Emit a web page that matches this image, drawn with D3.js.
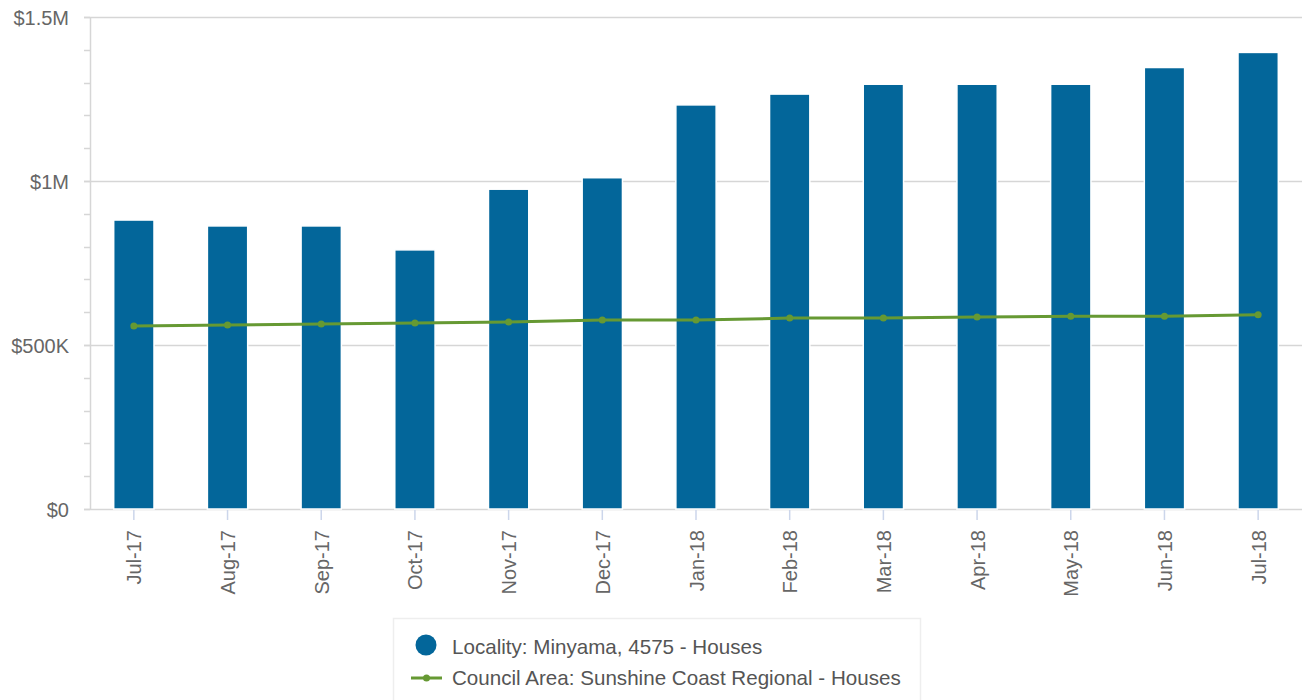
<!DOCTYPE html>
<html>
<head>
<meta charset="utf-8">
<script src="https://cdn.jsdelivr.net/npm/d3@7"></script>
<style>
  body { margin: 0; background: #fff; }
  svg { display: block; font-family: "Liberation Sans", Arial, sans-serif; }
</style>
</head>
<body>
<svg id="chart" width="1302" height="700"></svg>
<script>
const months = ["Jul-17", "Aug-17", "Sep-17", "Oct-17", "Nov-17", "Dec-17", "Jan-18",
  "Feb-18", "Mar-18", "Apr-18", "May-18", "Jun-18", "Jul-18"]
const localityValues = [881000, 863000, 863000, 790000, 975000, 1010000, 1232000,
  1265000, 1295000, 1295000, 1295000, 1346000, 1392000]
const councilValues = [558000, 561000, 564000, 567000, 570000, 576000, 576000,
  582000, 582000, 585000, 588000, 588000, 592000]
const yTicks = [0, 500000, 1000000, 1500000]
const yTickLabels = ["$0", "$500K", "$1M", "$1.5M"]
const seriesNames = ["Locality: Minyama, 4575 - Houses", "Council Area: Sunshine Coast Regional - Houses"]

const barColor = "#03669a"
const lineColor = "#669933"
const gridColor = "#d6d6d6"
const textColor = "#666"

const svg = d3.select("#chart")

const x = d3.scaleBand()
  .domain(months)
  .range([87, 1305])
  .paddingInner(0.57)
  .paddingOuter(0.285)

const y = d3.scaleLinear()
  .domain([0, 1500000])
  .range([509, 17])

// grid lines
svg.append("g")
  .selectAll("line")
  .data(yTicks)
  .join("line")
  .attr("x1", 84)
  .attr("x2", 1302)
  .attr("y1", d => Math.round(y(d)) + 0.5)
  .attr("y2", d => Math.round(y(d)) + 0.5)
  .attr("stroke", gridColor)
  .attr("stroke-width", 1.5)

// minor ticks on left axis
svg.append("g")
  .selectAll("line")
  .data(d3.range(0, 1500001, 100000))
  .join("line")
  .attr("x1", 84)
  .attr("x2", 90)
  .attr("y1", d => Math.round(y(d)) + 0.5)
  .attr("y2", d => Math.round(y(d)) + 0.5)
  .attr("stroke", gridColor)
  .attr("stroke-width", 1.5)

svg.append("line")
  .attr("x1", 90.5).attr("x2", 90.5)
  .attr("y1", y(1500000)).attr("y2", y(0))
  .attr("stroke", gridColor)
  .attr("stroke-width", 1.5)

// y labels
svg.append("g")
  .selectAll("text")
  .data(yTicks)
  .join("text")
  .attr("x", 69)
  .attr("y", d => y(d) + 8)
  .attr("text-anchor", "end")
  .attr("fill", textColor)
  .attr("font-size", 20)
  .text((d, i) => yTickLabels[i])

// x ticks and labels
const xAxis = svg.append("g")
xAxis.selectAll("line")
  .data(months)
  .join("line")
  .attr("x1", d => x(d) + x.bandwidth() / 2)
  .attr("x2", d => x(d) + x.bandwidth() / 2)
  .attr("y1", 510)
  .attr("y2", 520)
  .attr("stroke", "#ccd6eb")
  .attr("stroke-width", 1.5)

xAxis.selectAll("text")
  .data(months)
  .join("text")
  .attr("transform", d => `translate(${x(d) + x.bandwidth() / 2 + 7.5},530) rotate(-90)`)
  .attr("text-anchor", "end")
  .attr("fill", textColor)
  .attr("font-size", 20)
  .text(d => d)

// bars
svg.append("g")
  .selectAll("rect")
  .data(localityValues)
  .join("rect")
  .attr("x", (d, i) => x(months[i]))
  .attr("y", d => y(d))
  .attr("width", x.bandwidth())
  .attr("height", d => y(0) - y(d))
  .attr("fill", barColor)
  .attr("stroke", "#fff")
  .attr("stroke-width", 1.5)

// line
const line = d3.line()
  .x((d, i) => x(months[i]) + x.bandwidth() / 2)
  .y(d => y(d))

svg.append("path")
  .datum(councilValues)
  .attr("d", line)
  .attr("fill", "none")
  .attr("stroke", lineColor)
  .attr("stroke-width", 3)

svg.append("g")
  .selectAll("circle")
  .data(councilValues)
  .join("circle")
  .attr("cx", (d, i) => x(months[i]) + x.bandwidth() / 2)
  .attr("cy", d => y(d))
  .attr("r", 3.5)
  .attr("fill", lineColor)

// legend
const legend = svg.append("g")
legend.append("rect")
  .attr("x", 393.5).attr("y", 618.5)
  .attr("width", 527).attr("height", 100)
  .attr("fill", "#fff")
  .attr("stroke", "#eeeeee")
  .attr("stroke-width", 1.5)

legend.append("circle")
  .attr("cx", 426).attr("cy", 645).attr("r", 10.5)
  .attr("fill", barColor)

legend.append("line")
  .attr("x1", 411).attr("x2", 442)
  .attr("y1", 678).attr("y2", 678)
  .attr("stroke", lineColor).attr("stroke-width", 3)
legend.append("circle")
  .attr("cx", 426.5).attr("cy", 678).attr("r", 3.5)
  .attr("fill", lineColor)

legend.selectAll("text")
  .data(seriesNames)
  .join("text")
  .attr("x", 452)
  .attr("y", (d, i) => 654 + i * 31)
  .attr("fill", "#555")
  .attr("font-size", 20.6)
  .text(d => d)
</script>
</body>
</html>
